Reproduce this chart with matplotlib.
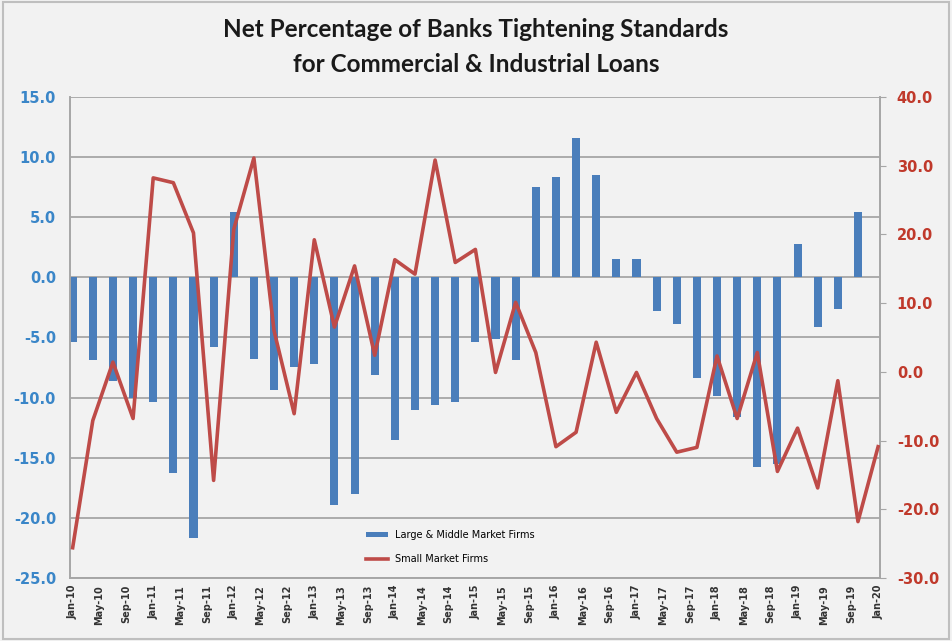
import numpy as np
import matplotlib
matplotlib.use("Agg")
from matplotlib import pyplot as plt

# quarterly survey values, Jan-10 .. Jan-20 (month index = 3 * i)
large_mid = [-5.4, -6.9, -8.6, -10.0, -10.4, -16.3, -21.7, -5.8, 5.4, -6.8,
             -9.4, -7.5, -7.2, -18.9, -18.0, -8.1, -13.5, -11.0, -10.6, -10.4,
             -5.4, -5.1, -6.9, 7.5, 8.3, 11.6, 8.5, 1.5, 1.5, -2.8,
             -3.9, -8.4, -9.9, -11.6, -15.8, -15.5, 2.8, -4.1, -2.6, 5.4,
             np.nan]
small = [-25.6, -7.1, 1.4, -6.8, 28.2, 27.5, 20.2, -15.8, 20.7, 31.1,
         6.0, -6.1, 19.2, 6.5, 15.4, 2.4, 16.3, 14.2, 30.8, 15.9,
         17.8, -0.1, 10.1, 2.8, -10.9, -8.8, 4.3, -5.9, -0.1, -6.8,
         -11.7, -11.0, 2.3, -6.8, 2.8, -14.5, -8.2, -16.9, -1.3, -21.8,
         -10.9]
months = np.arange(len(small)) * 3

mon_names = ["Jan", "May", "Sep"]
tick_months = np.arange(0, 121, 4)
tick_labels = [mon_names[(m // 4) % 3] + "-" + str(10 + m // 12) for m in tick_months]

bg = "#f2f2f2"
blue = "#4a7ebb"
red = "#be4b48"

fig = plt.figure(figsize=(9.52, 6.41), dpi=100, facecolor=bg)
ax = fig.add_axes([0.0735, 0.0983, 0.851, 0.7507])
ax.set_facecolor(bg)

ax.bar(months, large_mid, width=1.2, color=blue, label="Large & Middle Market Firms", zorder=2)
ax.set_xlim(-0.4, 120.3)
ax.set_ylim(-25, 15)
ax.set_yticks(np.arange(-25, 16, 5))
ax.set_yticklabels(["%.1f" % v for v in np.arange(-25, 16, 5)])
ax.grid(axis="y", color="#a6a6a6", lw=1.3, zorder=0)
ax.set_axisbelow(True)
ax.tick_params(axis="y", colors="#3a86c8", labelsize=10.5, length=0, pad=10)
for t in ax.get_yticklabels():
    t.set_fontweight("bold")
ax.set_xticks(tick_months)
ax.set_xticklabels(tick_labels, rotation=90, fontsize=7, fontweight="bold", color="#333333")
ax.tick_params(axis="x", length=0, pad=5)

ax2 = ax.twinx()
ax2.plot(months, small, color=red, lw=2.6, label="Small Market Firms", zorder=3)
ax2.set_ylim(-30, 40)
ax2.set_yticks(np.arange(-30, 41, 10))
ax2.set_yticklabels(["%.1f" % v for v in np.arange(-30, 41, 10)])
ax2.tick_params(axis="y", colors="#c0392b", labelsize=10.5, length=4, pad=8)
for t in ax2.get_yticklabels():
    t.set_fontweight("bold")

for a in (ax, ax2):
    for s in a.spines.values():
        s.set_color("#a6a6a6")
        s.set_linewidth(1.2)
    a.spines["top"].set_visible(False)
ax2.tick_params(axis="y", color="#a6a6a6")

h1, l1 = ax.get_legend_handles_labels()
h2, l2 = ax2.get_legend_handles_labels()
ax2.legend(h1 + h2, l1 + l2, loc="lower left", bbox_to_anchor=(0.355, 0.01),
           frameon=False, fontsize=7, handlelength=2.2, handleheight=0.4, labelspacing=1.5)

fig.text(0.5, 0.972, "Net Percentage of Banks Tightening Standards\nfor Commercial & Industrial Loans",
         ha="center", va="top", fontsize=17.5, fontweight="bold", color="#1a1a1a",
         family="Lato", linespacing=1.65)

fig.patches.append(plt.Rectangle((0.003, 0.003), 0.994, 0.994, transform=fig.transFigure,
                                 fill=False, edgecolor="#bfbfbf", lw=1.5))

fig.savefig("out.png", dpi=100, facecolor=bg)
